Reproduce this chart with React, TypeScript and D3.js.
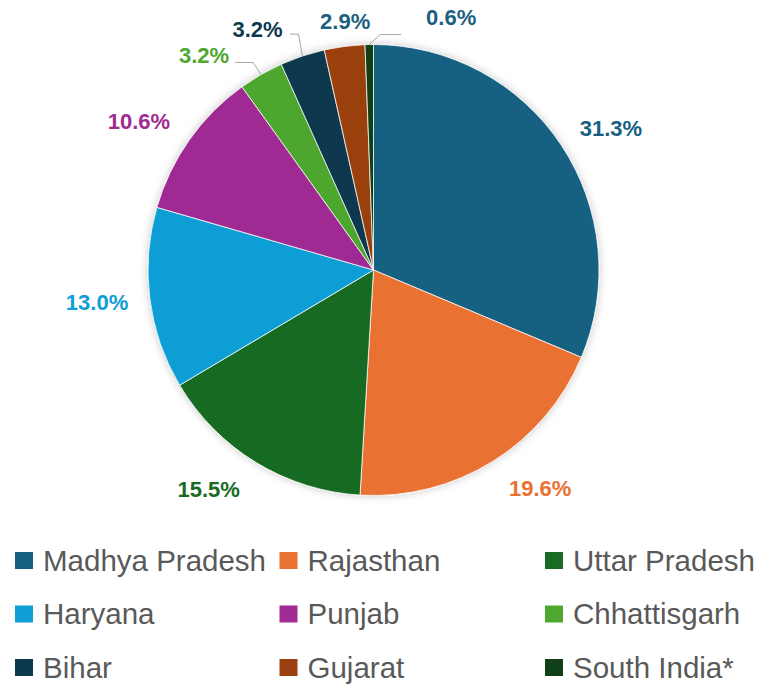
import React from "react";
import * as d3 from "d3";

const categories = [
  "Madhya Pradesh",
  "Rajasthan",
  "Uttar Pradesh",
  "Haryana",
  "Punjab",
  "Chhattisgarh",
  "Bihar",
  "Gujarat",
  "South India*",
];
const shares = [31.3, 19.6, 15.5, 13.0, 10.6, 3.2, 3.2, 2.9, 0.6];
const colors = [
  "#156082",
  "#E97132",
  "#196B24",
  "#0F9ED5",
  "#A02B93",
  "#4EA72E",
  "#0D394E",
  "#9A4010",
  "#0F4016",
];
const labelColors = [
  "#156082",
  "#E97132",
  "#196B24",
  "#0F9ED5",
  "#A02B93",
  "#4EA72E",
  "#0D394E",
  "#1B5F80",
  "#1B5F80",
];

// label placement: polar angle (deg, clockwise from 12 o'clock) and distance from pie centre
const labelAngles = [59.1, 142.6, 217, 263.4, 302.3, 321.7, 334.3, 353.5, 17.1];
const labelDistances = [276.7, 274.3, 274, 278.3, 277.6, 273.4, 267.3, 250.3, 264.1];
// leader lines for displaced labels (offsets relative to label centre)
const leaders = [
  { i: 5, endDx: 31, elbowDx: 49, dy: 7 },
  { i: 6, endDx: 32.5, elbowDx: 41, dy: 5 },
  { i: 8, endDx: -50, elbowDx: -71, dy: 17 },
];

const W = 763;
const H = 685;
const cx = 373.5;
const cy = 270;
const R = 225.5;

export default function App() {
  const data = categories.map((c, i) => ({ c, v: shares[i], i }));
  const pie = d3
    .pie<any>()
    .sort(null)
    .value((d) => d.v)
    .startAngle(0)
    .endAngle(2 * Math.PI);
  const arcs = pie(data);
  const arc = d3.arc<any>().innerRadius(0).outerRadius(R);

  const labelPos = (i: number) => {
    const a = (labelAngles[i] * Math.PI) / 180;
    return {
      x: cx + labelDistances[i] * Math.sin(a),
      y: cy - labelDistances[i] * Math.cos(a),
    };
  };

  const legendColX = [15, 279.5, 545];
  const legendRowY = [560.5, 614, 667.5];

  return (
    <svg
      width={W}
      height={H}
      style={{ position: "absolute", left: 0, top: 0, background: "#fff" }}
    >
      <defs>
        <filter id="sh" x="-20%" y="-20%" width="140%" height="140%">
          <feDropShadow dx="0" dy="0" stdDeviation="4" floodColor="#000" floodOpacity="0.22" />
        </filter>
      </defs>
      <g transform={`translate(${cx},${cy})`} filter="url(#sh)">
        {arcs.map((a, k) => (
          <path key={k} d={arc(a) as string} fill={colors[k]} stroke="#fff" strokeWidth={0.75} />
        ))}
      </g>
      {leaders.map((l, k) => {
        const a = arcs[l.i];
        const mid = (a.startAngle + a.endAngle) / 2;
        const px = cx + R * Math.sin(mid);
        const py = cy - R * Math.cos(mid);
        const p = labelPos(l.i);
        const y = p.y + l.dy;
        return (
          <polyline
            key={k}
            points={`${p.x + l.endDx},${y} ${p.x + l.elbowDx},${y} ${px},${py}`}
            fill="none"
            stroke="#A6A6A6"
            strokeWidth={1}
          />
        );
      })}
      {arcs.map((a, k) => {
        const p = labelPos(k);
        return (
          <text
            key={k}
            x={p.x}
            y={p.y + 7.7}
            textAnchor="middle"
            fontFamily="'Liberation Sans', Arial, sans-serif"
            fontWeight="bold"
            fontSize={22}
            fill={labelColors[k]}
          >
            {shares[k].toFixed(1) + "%"}
          </text>
        );
      })}
      {categories.map((c, i) => {
        const col = i % 3;
        const row = Math.floor(i / 3);
        const x = legendColX[col];
        const yc = legendRowY[row];
        return (
          <g key={c}>
            <rect x={x} y={yc - 8.5} width={18} height={17} fill={colors[i]} />
            <text
              x={x + 28}
              y={yc + 10}
              fontFamily="'Liberation Sans', Arial, sans-serif"
              fontSize={29.5}
              fill="#595959"
            >
              {c}
            </text>
          </g>
        );
      })}
    </svg>
  );
}
